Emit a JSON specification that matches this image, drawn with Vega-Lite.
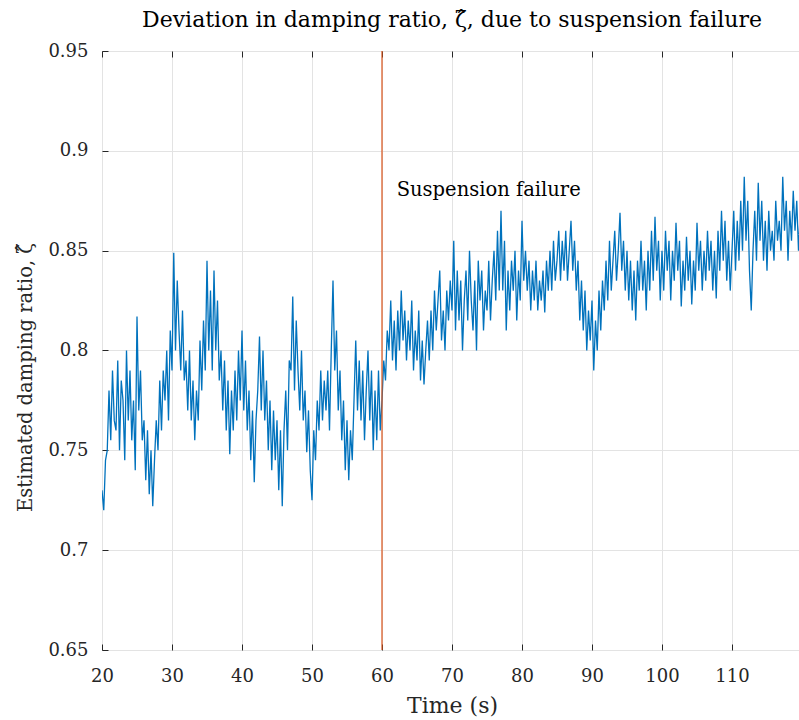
{
  "$schema": "https://vega.github.io/schema/vega-lite/v6.json",
  "width": 700,
  "height": 599,
  "autosize": {"type": "none"},
  "padding": {"left": 102, "top": 51, "right": 0, "bottom": 70},
  "background": "white",
  "title": {"text": "Deviation in damping ratio, ζ̂, due to suspension failure", "font": "DejaVu Serif", "fontSize": 22, "fontWeight": "normal", "color": "#000000", "offset": 10},
  "config": {
    "view": {"stroke": "#262626", "strokeWidth": 1},
    "axis": {"labelFont": "DejaVu Serif", "titleFont": "DejaVu Serif", "labelColor": "#262626", "titleColor": "#262626", "titleFontWeight": "normal", "domainColor": "#262626", "tickColor": "#262626", "gridColor": "#e3e3e3", "gridOpacity": 1, "labelFlush": false, "labelOverlap": false}
  },
  "datasets": {
    "series": [
      {"t":20,"z":0.73},{"t":20.25,"z":0.72},{"t":20.5,"z":0.745},{"t":20.75,"z":0.75},
      {"t":21,"z":0.78},{"t":21.25,"z":0.755},{"t":21.5,"z":0.79},{"t":21.75,"z":0.765},
      {"t":22,"z":0.76},{"t":22.25,"z":0.795},{"t":22.5,"z":0.75},{"t":22.75,"z":0.785},
      {"t":23,"z":0.775},{"t":23.25,"z":0.745},{"t":23.5,"z":0.80},{"t":23.75,"z":0.765},
      {"t":24,"z":0.79},{"t":24.25,"z":0.755},{"t":24.5,"z":0.775},{"t":24.75,"z":0.74},
      {"t":25,"z":0.817},{"t":25.25,"z":0.77},{"t":25.5,"z":0.79},{"t":25.75,"z":0.755},
      {"t":26,"z":0.765},{"t":26.25,"z":0.735},{"t":26.5,"z":0.76},{"t":26.75,"z":0.728},
      {"t":27,"z":0.75},{"t":27.25,"z":0.722},{"t":27.5,"z":0.745},{"t":27.75,"z":0.765},
      {"t":28,"z":0.75},{"t":28.25,"z":0.785},{"t":28.5,"z":0.76},{"t":28.75,"z":0.79},
      {"t":29,"z":0.775},{"t":29.25,"z":0.80},{"t":29.5,"z":0.765},{"t":29.75,"z":0.81},
      {"t":30,"z":0.79},{"t":30.25,"z":0.849},{"t":30.5,"z":0.80},{"t":30.75,"z":0.835},
      {"t":31,"z":0.81},{"t":31.25,"z":0.79},{"t":31.5,"z":0.82},{"t":31.75,"z":0.785},
      {"t":32,"z":0.795},{"t":32.25,"z":0.77},{"t":32.5,"z":0.80},{"t":32.75,"z":0.765},
      {"t":33,"z":0.785},{"t":33.25,"z":0.755},{"t":33.5,"z":0.78},{"t":33.75,"z":0.765},
      {"t":34,"z":0.805},{"t":34.25,"z":0.78},{"t":34.5,"z":0.815},{"t":34.75,"z":0.79},
      {"t":35,"z":0.845},{"t":35.25,"z":0.80},{"t":35.5,"z":0.83},{"t":35.75,"z":0.79},
      {"t":36,"z":0.84},{"t":36.25,"z":0.80},{"t":36.5,"z":0.825},{"t":36.75,"z":0.785},
      {"t":37,"z":0.80},{"t":37.25,"z":0.77},{"t":37.5,"z":0.795},{"t":37.75,"z":0.76},
      {"t":38,"z":0.785},{"t":38.25,"z":0.748},{"t":38.5,"z":0.78},{"t":38.75,"z":0.76},
      {"t":39,"z":0.79},{"t":39.25,"z":0.765},{"t":39.5,"z":0.80},{"t":39.75,"z":0.775},
      {"t":40,"z":0.81},{"t":40.25,"z":0.77},{"t":40.5,"z":0.795},{"t":40.75,"z":0.76},
      {"t":41,"z":0.78},{"t":41.25,"z":0.745},{"t":41.5,"z":0.77},{"t":41.75,"z":0.734},
      {"t":42,"z":0.765},{"t":42.25,"z":0.78},{"t":42.5,"z":0.807},{"t":42.75,"z":0.77},
      {"t":43,"z":0.80},{"t":43.25,"z":0.765},{"t":43.5,"z":0.785},{"t":43.75,"z":0.75},
      {"t":44,"z":0.775},{"t":44.25,"z":0.74},{"t":44.5,"z":0.77},{"t":44.75,"z":0.745},
      {"t":45,"z":0.765},{"t":45.25,"z":0.73},{"t":45.5,"z":0.76},{"t":45.75,"z":0.722},
      {"t":46,"z":0.76},{"t":46.25,"z":0.78},{"t":46.5,"z":0.75},{"t":46.75,"z":0.795},
      {"t":47,"z":0.79},{"t":47.25,"z":0.827},{"t":47.5,"z":0.78},{"t":47.75,"z":0.815},
      {"t":48,"z":0.79},{"t":48.25,"z":0.77},{"t":48.5,"z":0.80},{"t":48.75,"z":0.765},
      {"t":49,"z":0.78},{"t":49.25,"z":0.749},{"t":49.5,"z":0.77},{"t":49.75,"z":0.74},
      {"t":50,"z":0.725},{"t":50.25,"z":0.76},{"t":50.5,"z":0.745},{"t":50.75,"z":0.775},
      {"t":51,"z":0.76},{"t":51.25,"z":0.79},{"t":51.5,"z":0.765},{"t":51.75,"z":0.785},
      {"t":52,"z":0.77},{"t":52.25,"z":0.79},{"t":52.5,"z":0.76},{"t":52.75,"z":0.80},
      {"t":53,"z":0.835},{"t":53.25,"z":0.79},{"t":53.5,"z":0.81},{"t":53.75,"z":0.77},
      {"t":54,"z":0.79},{"t":54.25,"z":0.755},{"t":54.5,"z":0.775},{"t":54.75,"z":0.74},
      {"t":55,"z":0.765},{"t":55.25,"z":0.735},{"t":55.5,"z":0.76},{"t":55.75,"z":0.745},
      {"t":56,"z":0.775},{"t":56.25,"z":0.805},{"t":56.5,"z":0.77},{"t":56.75,"z":0.795},
      {"t":57,"z":0.765},{"t":57.25,"z":0.79},{"t":57.5,"z":0.755},{"t":57.75,"z":0.78},
      {"t":58,"z":0.80},{"t":58.25,"z":0.765},{"t":58.5,"z":0.79},{"t":58.75,"z":0.75},
      {"t":59,"z":0.78},{"t":59.25,"z":0.755},{"t":59.5,"z":0.79},{"t":59.75,"z":0.76},
      {"t":60,"z":0.775},{"t":60.25,"z":0.795},{"t":60.5,"z":0.785},{"t":60.75,"z":0.81},
      {"t":61,"z":0.80},{"t":61.25,"z":0.825},{"t":61.5,"z":0.795},{"t":61.75,"z":0.815},
      {"t":62,"z":0.79},{"t":62.25,"z":0.82},{"t":62.5,"z":0.80},{"t":62.75,"z":0.83},
      {"t":63,"z":0.805},{"t":63.25,"z":0.82},{"t":63.5,"z":0.795},{"t":63.75,"z":0.815},
      {"t":64,"z":0.80},{"t":64.25,"z":0.825},{"t":64.5,"z":0.79},{"t":64.75,"z":0.81},
      {"t":65,"z":0.795},{"t":65.25,"z":0.82},{"t":65.5,"z":0.785},{"t":65.75,"z":0.805},
      {"t":66,"z":0.783},{"t":66.25,"z":0.80},{"t":66.5,"z":0.815},{"t":66.75,"z":0.795},
      {"t":67,"z":0.82},{"t":67.25,"z":0.80},{"t":67.5,"z":0.83},{"t":67.75,"z":0.81},
      {"t":68,"z":0.825},{"t":68.25,"z":0.84},{"t":68.5,"z":0.805},{"t":68.75,"z":0.82},
      {"t":69,"z":0.80},{"t":69.25,"z":0.83},{"t":69.5,"z":0.815},{"t":69.75,"z":0.835},
      {"t":70,"z":0.82},{"t":70.25,"z":0.855},{"t":70.5,"z":0.81},{"t":70.75,"z":0.84},
      {"t":71,"z":0.815},{"t":71.25,"z":0.835},{"t":71.5,"z":0.80},{"t":71.75,"z":0.825},
      {"t":72,"z":0.84},{"t":72.25,"z":0.815},{"t":72.5,"z":0.85},{"t":72.75,"z":0.825},
      {"t":73,"z":0.81},{"t":73.25,"z":0.835},{"t":73.5,"z":0.80},{"t":73.75,"z":0.845},
      {"t":74,"z":0.825},{"t":74.25,"z":0.84},{"t":74.5,"z":0.81},{"t":74.75,"z":0.83},
      {"t":75,"z":0.82},{"t":75.25,"z":0.845},{"t":75.5,"z":0.815},{"t":75.75,"z":0.835},
      {"t":76,"z":0.85},{"t":76.25,"z":0.825},{"t":76.5,"z":0.86},{"t":76.75,"z":0.83},
      {"t":77,"z":0.87},{"t":77.25,"z":0.83},{"t":77.5,"z":0.855},{"t":77.75,"z":0.81},
      {"t":78,"z":0.84},{"t":78.25,"z":0.82},{"t":78.5,"z":0.845},{"t":78.75,"z":0.83},
      {"t":79,"z":0.85},{"t":79.25,"z":0.815},{"t":79.5,"z":0.84},{"t":79.75,"z":0.825},
      {"t":80,"z":0.865},{"t":80.25,"z":0.835},{"t":80.5,"z":0.85},{"t":80.75,"z":0.83},
      {"t":81,"z":0.845},{"t":81.25,"z":0.82},{"t":81.5,"z":0.84},{"t":81.75,"z":0.825},
      {"t":82,"z":0.845},{"t":82.25,"z":0.82},{"t":82.5,"z":0.835},{"t":82.75,"z":0.825},
      {"t":83,"z":0.84},{"t":83.25,"z":0.819},{"t":83.5,"z":0.845},{"t":83.75,"z":0.83},
      {"t":84,"z":0.85},{"t":84.25,"z":0.83},{"t":84.5,"z":0.855},{"t":84.75,"z":0.835},
      {"t":85,"z":0.845},{"t":85.25,"z":0.86},{"t":85.5,"z":0.835},{"t":85.75,"z":0.855},
      {"t":86,"z":0.84},{"t":86.25,"z":0.86},{"t":86.5,"z":0.835},{"t":86.75,"z":0.85},
      {"t":87,"z":0.865},{"t":87.25,"z":0.84},{"t":87.5,"z":0.855},{"t":87.75,"z":0.83},
      {"t":88,"z":0.845},{"t":88.25,"z":0.815},{"t":88.5,"z":0.835},{"t":88.75,"z":0.81},
      {"t":89,"z":0.83},{"t":89.25,"z":0.80},{"t":89.5,"z":0.82},{"t":89.75,"z":0.805},
      {"t":90,"z":0.825},{"t":90.25,"z":0.79},{"t":90.5,"z":0.815},{"t":90.75,"z":0.80},
      {"t":91,"z":0.83},{"t":91.25,"z":0.81},{"t":91.5,"z":0.835},{"t":91.75,"z":0.82},
      {"t":92,"z":0.845},{"t":92.25,"z":0.825},{"t":92.5,"z":0.855},{"t":92.75,"z":0.83},
      {"t":93,"z":0.845},{"t":93.25,"z":0.86},{"t":93.5,"z":0.835},{"t":93.75,"z":0.85},
      {"t":94,"z":0.869},{"t":94.25,"z":0.84},{"t":94.5,"z":0.855},{"t":94.75,"z":0.83},
      {"t":95,"z":0.85},{"t":95.25,"z":0.825},{"t":95.5,"z":0.845},{"t":95.75,"z":0.82},
      {"t":96,"z":0.84},{"t":96.25,"z":0.815},{"t":96.5,"z":0.845},{"t":96.75,"z":0.83},
      {"t":97,"z":0.855},{"t":97.25,"z":0.83},{"t":97.5,"z":0.845},{"t":97.75,"z":0.82},
      {"t":98,"z":0.85},{"t":98.25,"z":0.83},{"t":98.5,"z":0.86},{"t":98.75,"z":0.835},
      {"t":99,"z":0.867},{"t":99.25,"z":0.84},{"t":99.5,"z":0.855},{"t":99.75,"z":0.825},
      {"t":100,"z":0.85},{"t":100.25,"z":0.83},{"t":100.5,"z":0.86},{"t":100.75,"z":0.84},
      {"t":101,"z":0.855},{"t":101.25,"z":0.825},{"t":101.5,"z":0.85},{"t":101.75,"z":0.835},
      {"t":102,"z":0.864},{"t":102.25,"z":0.84},{"t":102.5,"z":0.855},{"t":102.75,"z":0.822},
      {"t":103,"z":0.845},{"t":103.25,"z":0.83},{"t":103.5,"z":0.857},{"t":103.75,"z":0.835},
      {"t":104,"z":0.85},{"t":104.25,"z":0.823},{"t":104.5,"z":0.845},{"t":104.75,"z":0.83},
      {"t":105,"z":0.864},{"t":105.25,"z":0.84},{"t":105.5,"z":0.855},{"t":105.75,"z":0.83},
      {"t":106,"z":0.85},{"t":106.25,"z":0.835},{"t":106.5,"z":0.86},{"t":106.75,"z":0.84},
      {"t":107,"z":0.855},{"t":107.25,"z":0.83},{"t":107.5,"z":0.85},{"t":107.75,"z":0.826},
      {"t":108,"z":0.86},{"t":108.25,"z":0.84},{"t":108.5,"z":0.87},{"t":108.75,"z":0.845},
      {"t":109,"z":0.865},{"t":109.25,"z":0.835},{"t":109.5,"z":0.855},{"t":109.75,"z":0.83},
      {"t":110,"z":0.85},{"t":110.25,"z":0.87},{"t":110.5,"z":0.84},{"t":110.75,"z":0.865},
      {"t":111,"z":0.845},{"t":111.25,"z":0.875},{"t":111.5,"z":0.85},{"t":111.75,"z":0.887},
      {"t":112,"z":0.855},{"t":112.25,"z":0.875},{"t":112.5,"z":0.84},{"t":112.75,"z":0.82},
      {"t":113,"z":0.85},{"t":113.25,"z":0.87},{"t":113.5,"z":0.845},{"t":113.75,"z":0.884},
      {"t":114,"z":0.855},{"t":114.25,"z":0.875},{"t":114.5,"z":0.845},{"t":114.75,"z":0.865},
      {"t":115,"z":0.84},{"t":115.25,"z":0.87},{"t":115.5,"z":0.85},{"t":115.75,"z":0.86},
      {"t":116,"z":0.845},{"t":116.25,"z":0.875},{"t":116.5,"z":0.855},{"t":116.75,"z":0.865},
      {"t":117,"z":0.85},{"t":117.25,"z":0.887},{"t":117.5,"z":0.86},{"t":117.75,"z":0.875},
      {"t":118,"z":0.845},{"t":118.25,"z":0.87},{"t":118.5,"z":0.855},{"t":118.75,"z":0.88},
      {"t":119,"z":0.86},{"t":119.25,"z":0.875},{"t":119.5,"z":0.85},{"t":119.75,"z":0.87}
    ],
    "failure": [{"t": 60, "label": "Suspension failure", "lt": 62.1, "lz": 0.8805}]
  },
  "layer": [
    {
      "data": {"name": "series"},
      "mark": {"type": "line", "color": "#0072BD", "strokeWidth": 1.3, "clip": true},
      "encoding": {
        "x": {"field": "t", "type": "quantitative", "scale": {"domain": [20, 120], "nice": false, "zero": false},
              "axis": {"orient": "bottom", "title": "Time (s)", "values": [20,30,40,50,60,70,80,90,100,110], "tickSize": -6, "labelPadding": 23, "labelFontSize": 18, "titleFontSize": 22, "titlePadding": 10, "grid": true, "domain": false}},
        "y": {"field": "z", "type": "quantitative", "scale": {"domain": [0.65, 0.95], "nice": false, "zero": false},
              "axis": {"title": "Estimated damping ratio, ζ̂", "values": [0.65,0.7,0.75,0.8,0.85,0.9,0.95], "format": "~g", "tickSize": -6, "labelPadding": 20, "labelFontSize": 18, "titleFontSize": 19.5, "titleX": -77, "titleY": 326, "titleBaseline": "middle", "titleAngle": -90, "grid": true, "domain": false}}
      }
    },
    {
      "data": {"name": "failure"},
      "mark": {"type": "rule", "color": "#D95319", "strokeWidth": 1.2},
      "encoding": {
        "x": {"field": "t", "type": "quantitative",
              "axis": {"orient": "top", "title": null, "labels": false, "values": [20,30,40,50,60,70,80,90,100,110], "tickSize": -6, "grid": false, "domain": false}}
      }
    },
    {
      "data": {"name": "failure"},
      "mark": {"type": "text", "font": "DejaVu Serif", "fontSize": 19.5, "align": "left", "baseline": "middle", "color": "#000000"},
      "encoding": {
        "x": {"field": "lt", "type": "quantitative", "axis": null},
        "y": {"field": "lz", "type": "quantitative"},
        "text": {"field": "label"}
      }
    }
  ],
  "resolve": {"axis": {"x": "independent"}}
}
